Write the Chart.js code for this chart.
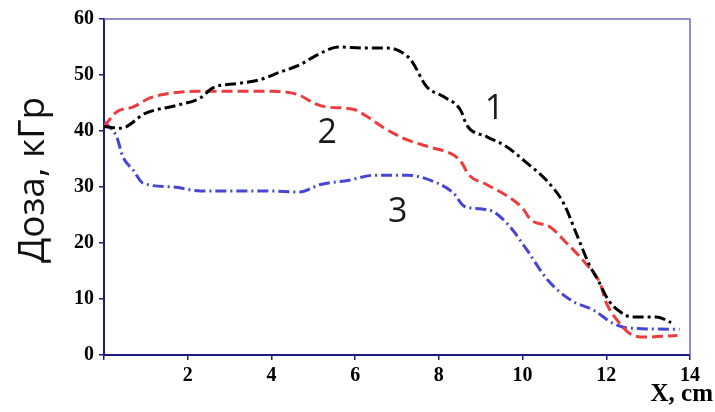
<!DOCTYPE html>
<html>
<head>
<meta charset="utf-8">
<script src="https://cdn.jsdelivr.net/npm/chart.js@4"></script>
<style>
html,body{margin:0;padding:0;background:#fff;}
#wrap{width:715px;height:412px;position:relative;}
</style>
</head>
<body>
<div id="wrap"><canvas id="c" width="715" height="412"></canvas></div>
<script>
// Curve 1 (black)
const x1 = [0, 0.4, 1.0, 1.75, 2.3, 2.6, 3.2, 3.7, 4.2, 4.67, 5.1, 5.6, 6.2, 6.8, 7.05, 7.33, 7.71, 8.12, 8.52, 8.67, 9.14, 9.62, 10.1, 10.57, 10.98, 11.3, 11.6, 11.8, 12.05, 12.3, 12.6, 13.2, 13.55];
const y1 = [40.8, 40.5, 43.2, 44.6, 45.9, 47.7, 48.5, 49.1, 50.5, 51.8, 53.6, 55, 54.8, 54.8, 54.3, 52.7, 47.9, 46.1, 43.7, 41, 39, 37.2, 34.3, 31.2, 27.1, 21.4, 16, 13.4, 9.8, 7.9, 6.8, 6.8, 5.8];
// Curve 2 (red)
const x2 = [0, 0.3, 0.7, 1.1, 1.65, 2.2, 4.0, 4.67, 5.0, 5.3, 5.95, 6.3, 6.7, 7.25, 7.8, 8.35, 8.55, 8.7, 9.15, 9.65, 10.0, 10.2, 10.65, 11.05, 11.5, 11.85, 12.0, 12.25, 12.55, 12.9, 13.7];
const y2 = [40.8, 43.4, 44.3, 45.9, 46.8, 47.1, 47.1, 46.4, 45, 44.3, 43.9, 42.5, 40.5, 38.4, 37.1, 35.7, 34.3, 32.3, 30.4, 28.3, 26.2, 24.1, 22.9, 20, 16.4, 12.8, 9.3, 6.3, 3.9, 3.2, 3.5];
// Curve 3 (blue)
const x3 = [0, 0.3, 0.45, 0.7, 0.93, 1.65, 2.3, 3.9, 4.67, 5.15, 5.85, 6.45, 7.25, 7.9, 8.35, 8.6, 9.0, 9.3, 9.7, 10.1, 10.6, 11.15, 11.7, 12.15, 12.55, 13.75];
const y3 = [41.6, 39, 35.4, 33, 30.7, 30, 29.3, 29.3, 29.1, 30.4, 31.2, 32.1, 32.1, 30.9, 28.9, 26.6, 26.1, 25.6, 22.9, 18.8, 13.4, 9.8, 8, 5.7, 4.8, 4.6];

const curveLabels = ['1', '2', '3'];
const curveLabelPos = [[9.33, 43.9], [5.33, 39.6], [7.02, 25.5]];
const yTitle = 'Доза, кГр';
const xTitle = 'X, cm';

const pts = (xs, ys) => xs.map((x, i) => ({x: x, y: ys[i]}));

const decor = {
  id: 'decor',
  afterDraw(chart) {
    const ctx = chart.ctx, a = chart.chartArea;
    const xs = chart.scales.x, ys = chart.scales.y;
    ctx.save();
    // top & right frame
    ctx.strokeStyle = '#6b6bbd';
    ctx.lineWidth = 1.5;
    ctx.beginPath();
    ctx.moveTo(a.left, a.top);
    ctx.lineTo(a.right, a.top);
    ctx.lineTo(a.right, a.bottom);
    ctx.stroke();
    // curve labels
    ctx.fillStyle = '#1a1a1a';
    ctx.font = '34px "Open Sans"';
    ctx.textAlign = 'center';
    ctx.textBaseline = 'middle';
    curveLabels.forEach((t, i) => {
      ctx.fillText(t, xs.getPixelForValue(curveLabelPos[i][0]), ys.getPixelForValue(curveLabelPos[i][1]));
    });
    // y title
    ctx.save();
    ctx.translate(33, 180);
    ctx.rotate(-Math.PI / 2);
    ctx.font = '37px "Open Sans"';
    ctx.fillStyle = '#111';
    ctx.fillText(yTitle, 0, 0);
    ctx.restore();
    // x title
    ctx.font = 'bold 25px "Liberation Serif"';
    ctx.fillStyle = '#000';
    ctx.textAlign = 'right';
    ctx.textBaseline = 'alphabetic';
    ctx.fillText(xTitle, 713, 401);
    ctx.restore();
  }
};

const ds = (label, data, color, dash) => ({
  label, data, borderColor: color, backgroundColor: color,
  borderWidth: 3, borderDash: dash, pointRadius: 0,
  cubicInterpolationMode: 'monotone', fill: false
});

new Chart(document.getElementById('c'), {
  type: 'line',
  data: {
    datasets: [
      ds('1', pts(x1, y1), '#000000', [11, 4, 3, 4]),
      ds('2', pts(x2, y2), '#ee3b3b', [11, 5]),
      ds('3', pts(x3, y3), '#4646d6', [11, 4, 2, 4])
    ]
  },
  options: {
    responsive: false,
    animation: false,
    layout: {padding: {left: 0, top: 19, right: 25, bottom: 0}},
    plugins: {legend: {display: false}, tooltip: {enabled: false}},
    scales: {
      x: {
        type: 'linear', min: 0, max: 14,
        afterFit(s) { s.height = 57; },
        border: {color: '#1c1c80', width: 2},
        grid: {drawOnChartArea: false, drawTicks: true, tickLength: 5, color: '#1c1c80', lineWidth: 1.5},
        ticks: {stepSize: 2, padding: 4, color: '#000', font: {family: '"Liberation Serif"', weight: 'bold', size: 20},
          callback: v => v === 0 ? '' : v}
      },
      y: {
        min: 0, max: 60,
        afterFit(s) { s.width = 104; },
        border: {color: '#1c1c80', width: 2},
        grid: {drawOnChartArea: false, drawTicks: true, tickLength: 5, color: '#1c1c80', lineWidth: 1.5},
        ticks: {stepSize: 10, padding: 5, color: '#000', font: {family: '"Liberation Serif"', weight: 'bold', size: 20}}
      }
    }
  },
  plugins: [decor]
});
</script>
</body>
</html>
